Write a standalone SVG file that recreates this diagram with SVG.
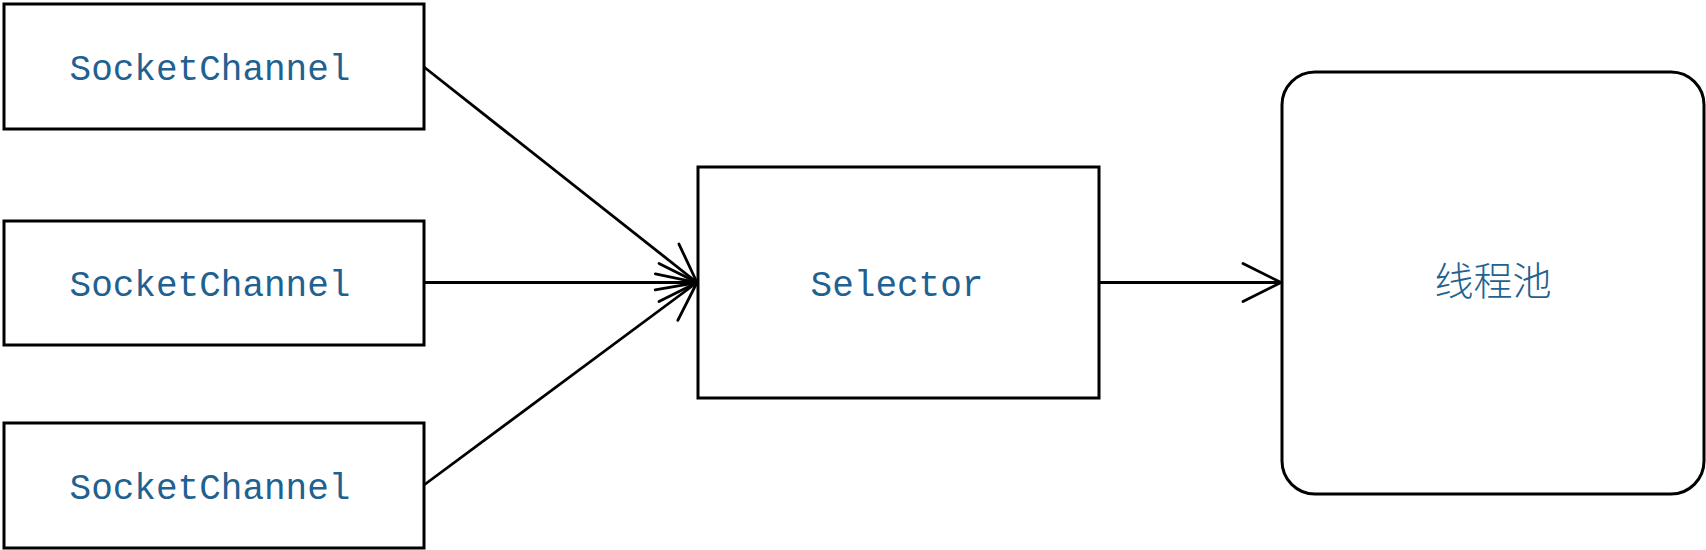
<svg xmlns="http://www.w3.org/2000/svg" width="1706" height="550" viewBox="0 0 1706 550">
  <style>
    .box { fill: #ffffff; stroke: #000000; stroke-width: 3; }
    .lbl { font-family: "Liberation Mono", "DejaVu Sans Mono", monospace; font-size: 36px; fill: #1f6190; text-anchor: middle; }
    .cjk { font-family: "Noto Sans CJK SC", "Noto Sans", sans-serif; font-size: 39px; font-weight: 300; fill: #1f6190; text-anchor: middle; }
    .edge { fill: none; stroke: #000000; stroke-width: 2.8; }
  </style>
  <defs>
    <marker id="arrow" markerUnits="userSpaceOnUse" viewBox="-45 -25 50 50" refX="0" refY="0" markerWidth="50" markerHeight="50" orient="auto" overflow="visible">
      <path d="M-38,-19 L0,0 L-38,19" fill="none" stroke="#000000" stroke-width="2.8" stroke-linecap="round" stroke-linejoin="miter"/>
    </marker>
  </defs>
  <rect width="1706" height="550" fill="#ffffff"/>
  <g id="connectors">
    <line class="edge" x1="424" y1="67" x2="697" y2="282.5" marker-end="url(#arrow)"/>
    <line class="edge" x1="424" y1="282.5" x2="697" y2="282.5" marker-end="url(#arrow)"/>
    <line class="edge" x1="424" y1="485" x2="697" y2="282.5" marker-end="url(#arrow)"/>
    <line class="edge" x1="1099" y1="282.5" x2="1281" y2="282.5" marker-end="url(#arrow)"/>
  </g>
  <g id="socket1">
    <rect class="box" x="4" y="4" width="420" height="125"/>
    <text class="lbl" x="210" y="80">SocketChannel</text>
  </g>
  <g id="socket2">
    <rect class="box" x="4" y="221" width="420" height="124"/>
    <text class="lbl" x="210" y="296">SocketChannel</text>
  </g>
  <g id="socket3">
    <rect class="box" x="4" y="423" width="420" height="125"/>
    <text class="lbl" x="210" y="499">SocketChannel</text>
  </g>
  <g id="selector">
    <rect class="box" x="698" y="167" width="401" height="231"/>
    <text class="lbl" x="897" y="296">Selector</text>
  </g>
  <g id="threadpool">
    <rect class="box" x="1282" y="72" width="422" height="422" rx="33" ry="33"/>
    <text class="cjk" x="1493" y="295">线程池</text>
  </g>
</svg>
